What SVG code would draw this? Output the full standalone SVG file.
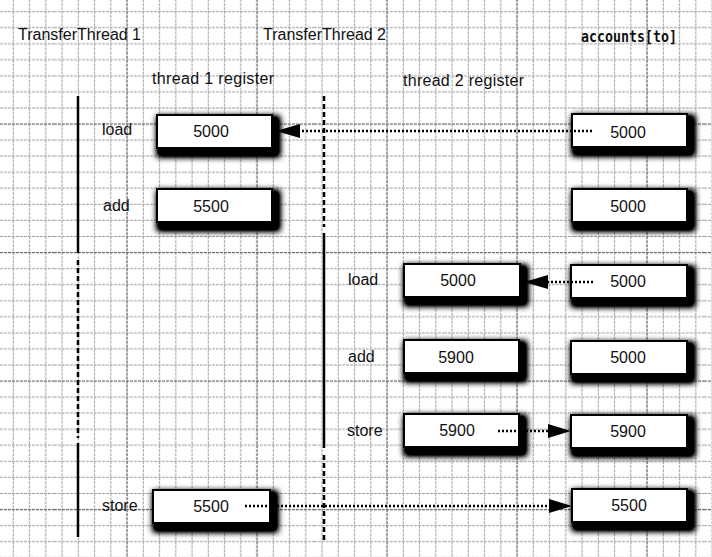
<svg xmlns="http://www.w3.org/2000/svg" width="712" height="557" viewBox="0 0 712 557">
<style>
.lbl{font-family:"Liberation Sans",Arial,sans-serif;font-size:16px;fill:#111}
.num{font-family:"Liberation Sans",Arial,sans-serif;font-size:16px;fill:#111;text-anchor:middle}
.mono{font-family:"DejaVu Sans Mono","Liberation Mono",monospace;font-size:16px;font-weight:bold;fill:#111}
.box{fill:#fff;stroke:#000;stroke-width:2}
.life{stroke:#000;stroke-width:2.5;fill:none}
.dash{stroke-dasharray:5 3}
.dot{stroke:#000;stroke-width:2.5;stroke-dasharray:2 2;fill:none}
.head{fill:#000}
.minor{stroke:#9c9c9c;stroke-width:1;stroke-dasharray:3 1}
.major{stroke:#666;stroke-width:1.3;stroke-dasharray:3 1}
</style>
<defs>
<pattern id="grid" patternUnits="userSpaceOnUse" x="53.875" y="51.72" width="130" height="128.5">
<g class="minor">
<line x1="8.125" y1="0" x2="8.125" y2="128.5"/>
<line x1="24.375" y1="0" x2="24.375" y2="128.5"/>
<line x1="40.625" y1="0" x2="40.625" y2="128.5"/>
<line x1="56.875" y1="0" x2="56.875" y2="128.5"/>
<line x1="89.375" y1="0" x2="89.375" y2="128.5"/>
<line x1="105.625" y1="0" x2="105.625" y2="128.5"/>
<line x1="121.875" y1="0" x2="121.875" y2="128.5"/>
<line x1="0" y1="8.03" x2="130" y2="8.03"/>
<line x1="0" y1="24.09" x2="130" y2="24.09"/>
<line x1="0" y1="40.16" x2="130" y2="40.16"/>
<line x1="0" y1="56.22" x2="130" y2="56.22"/>
<line x1="0" y1="88.34" x2="130" y2="88.34"/>
<line x1="0" y1="104.41" x2="130" y2="104.41"/>
<line x1="0" y1="120.47" x2="130" y2="120.47"/>
</g>
<g class="major">
<line x1="73.125" y1="0" x2="73.125" y2="128.5"/>
<line x1="0" y1="72.28" x2="130" y2="72.28"/>
</g>
</pattern>
<filter id="sh" x="-20%" y="-60%" width="150%" height="240%">
<feMorphology in="SourceAlpha" operator="dilate" radius="3"/>
<feGaussianBlur stdDeviation="3"/>
<feOffset dx="4" dy="5"/>
<feComponentTransfer><feFuncA type="linear" slope="1.6"/></feComponentTransfer>
<feMerge><feMergeNode/><feMergeNode in="SourceGraphic"/></feMerge>
</filter>
</defs>
<rect x="0" y="0" width="712" height="557" fill="#fff"/>
<rect x="0" y="0" width="712" height="557" fill="url(#grid)"/>

<g id="headers">
<text class="lbl" x="18" y="40">TransferThread 1</text>
<text class="lbl" x="263" y="40">TransferThread 2</text>
<text class="mono" x="581" y="42" textLength="96" lengthAdjust="spacingAndGlyphs">accounts[to]</text>
<text class="lbl" x="152" y="84" textLength="122">thread 1 register</text>
<text class="lbl" x="403" y="86" textLength="121">thread 2 register</text>
</g>

<g id="lifelines">
<line class="life" x1="78" y1="96" x2="78" y2="253"/>
<line class="life dash" x1="78" y1="260" x2="78" y2="438"/>
<line class="life" x1="78" y1="443" x2="78" y2="537"/>
<line class="life dash" x1="324" y1="96" x2="324" y2="227"/>
<line class="life" x1="324" y1="233" x2="324" y2="448"/>
<line class="life dash" x1="324" y1="455" x2="324" y2="542"/>
</g>

<g id="ops">
<text class="lbl" x="102" y="135">load</text>
<text class="lbl" x="103" y="211">add</text>
<text class="lbl" x="348" y="285">load</text>
<text class="lbl" x="348" y="362">add</text>
<text class="lbl" x="347" y="436">store</text>
<text class="lbl" x="102" y="511">store</text>
</g>

<g id="r1"><rect class="box" filter="url(#sh)" x="157" y="115" width="115" height="33"/><text class="num" x="211" y="137">5000</text></g>
<g id="r2"><rect class="box" filter="url(#sh)" x="157" y="189" width="115" height="33"/><text class="num" x="211" y="212">5500</text></g>
<g id="a1"><rect class="box" filter="url(#sh)" x="572" y="114" width="115" height="33"/><text class="num" x="628" y="138">5000</text></g>
<g id="a2"><rect class="box" filter="url(#sh)" x="572" y="189" width="115" height="33"/><text class="num" x="628" y="212">5000</text></g>
<g id="r3"><rect class="box" filter="url(#sh)" x="404" y="264" width="116" height="33"/><text class="num" x="458" y="286">5000</text></g>
<g id="a3"><rect class="box" filter="url(#sh)" x="571" y="265" width="116" height="33"/><text class="num" x="628" y="287">5000</text></g>
<g id="r4"><rect class="box" filter="url(#sh)" x="404" y="340" width="115" height="33"/><text class="num" x="456" y="363">5900</text></g>
<g id="a4"><rect class="box" filter="url(#sh)" x="571" y="341" width="116" height="33"/><text class="num" x="628" y="363">5000</text></g>
<g id="r5"><rect class="box" filter="url(#sh)" x="404" y="414" width="115" height="33"/><text class="num" x="457" y="436">5900</text></g>
<g id="a5"><rect class="box" filter="url(#sh)" x="571" y="415" width="116" height="33"/><text class="num" x="628" y="437">5900</text></g>
<g id="r6"><rect class="box" filter="url(#sh)" x="153" y="490" width="117" height="33"/><text class="num" x="211" y="512">5500</text></g>
<g id="a6"><rect class="box" filter="url(#sh)" x="572" y="489" width="115" height="33"/><text class="num" x="629" y="511">5500</text></g>

<g id="connectors">
<line class="dot" x1="592" y1="131" x2="298" y2="131"/>
<polygon class="head" points="276,131 300,124 300,138"/>
<line class="dot" x1="593" y1="282" x2="545" y2="282"/>
<polygon class="head" points="524,282 548,275 548,289"/>
<line class="dot" x1="498" y1="431" x2="552" y2="431"/>
<polygon class="head" points="571,431 548,424 548,438"/>
<line class="dot" x1="245" y1="506" x2="554" y2="506"/>
<polygon class="head" points="572,506 549,499 549,513"/>
</g>
</svg>
